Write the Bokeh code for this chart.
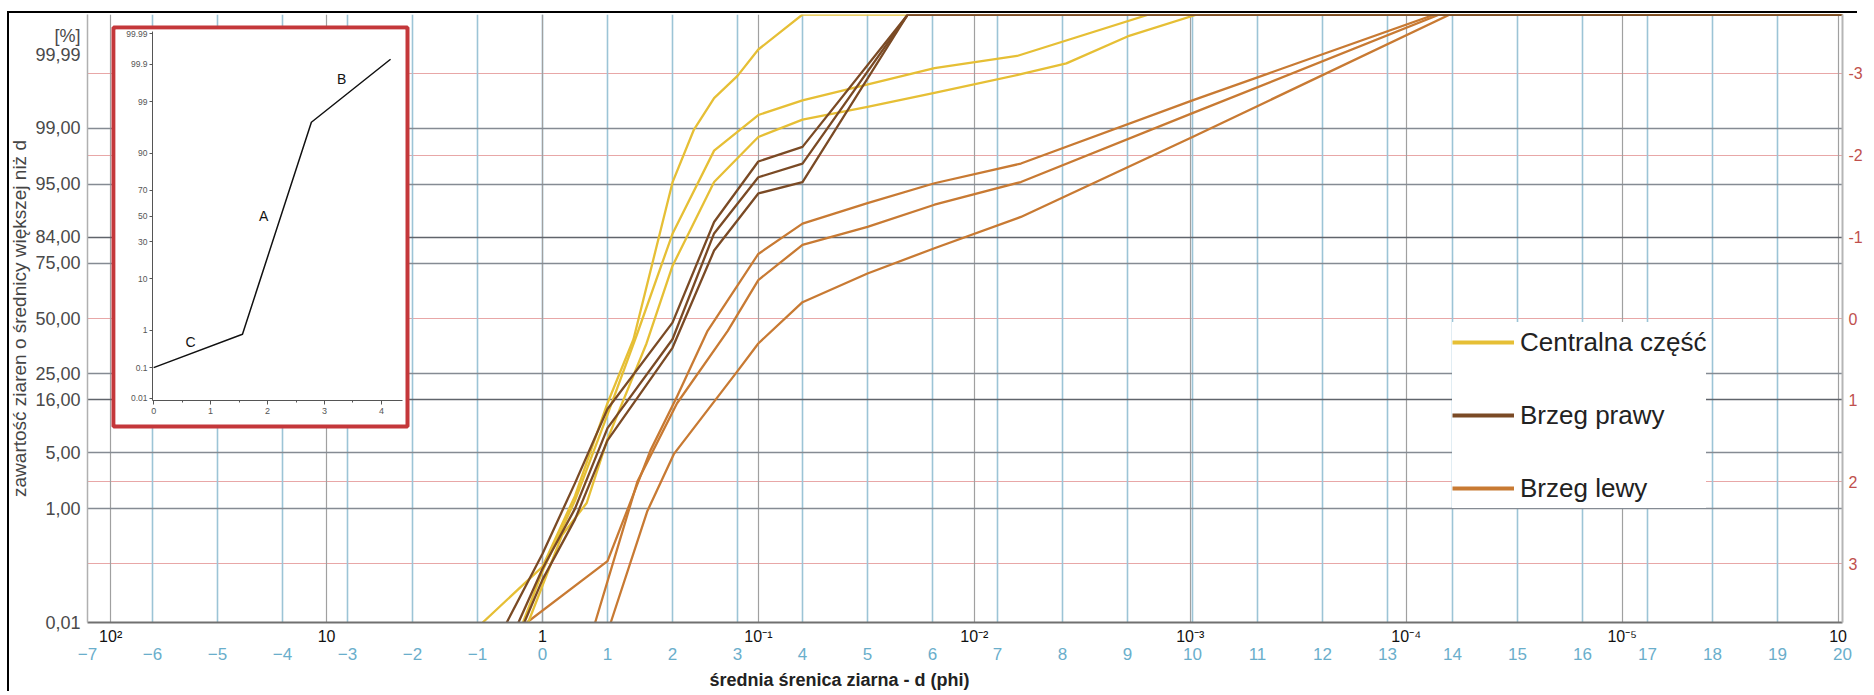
from statistics import NormalDist
import math

from bokeh.plotting import figure
from bokeh.models import (Range1d, LinearAxis, FixedTicker, Grid, Legend, LegendItem,
                          BoxAnnotation, Title, Div)
from bokeh.core.properties import value
from bokeh.embed import file_html
from bokeh.resources import INLINE

# ---------------- data ----------------
# Centralna część (yellow)
c1_phi = [-0.92, 0.0, 0.5, 1.0, 1.4, 2.0, 2.33, 2.64, 3.0, 3.32, 4.0, 20.0]
c1_pct = [0.01, 0.12, 1.5, 15.0, 40.0, 95.2, 98.96, 99.65, 99.85, 99.95, 100.0, 100.0]
c2_phi = [-0.3, 0.0, 0.5, 1.0, 1.45, 2.0, 2.64, 3.32, 4.0, 6.03, 7.3, 9.33, 20.0]
c2_pct = [0.01, 0.1, 1.3, 12.0, 42.0, 85.0, 98.0, 99.36, 99.62, 99.89, 99.934, 100.0, 100.0]
c3_phi = [-0.22, 0.3, 0.68, 1.0, 1.6, 2.0, 2.64, 3.32, 4.0, 5.0, 6.03, 7.36, 8.06, 9.0, 10.07, 20.0]
c3_pct = [0.01, 0.4, 1.2, 7.0, 38.0, 74.0, 95.25, 98.68, 99.25, 99.52, 99.71, 99.86, 99.91, 99.972, 100.0, 100.0]

# Brzeg prawy (dark brown)
b1_phi = [-0.55, 0.0, 0.5, 1.0, 2.0, 2.64, 3.32, 4.0, 5.62, 20.0]
b1_pct = [0.01, 0.2, 2.2, 13.4, 48.0, 88.1, 97.26, 98.21, 100.0, 100.0]
b2_phi = [-0.37, 0.0, 0.5, 1.0, 2.0, 2.64, 3.32, 4.0, 5.62, 20.0]
b2_pct = [0.01, 0.11, 1.0, 9.0, 40.0, 85.1, 95.8, 97.1, 100.0, 100.0]
b3_phi = [-0.28, 0.0, 0.5, 1.0, 2.0, 2.64, 3.32, 4.0, 5.62, 20.0]
b3_pct = [0.01, 0.07, 0.7, 6.8, 36.0, 79.7, 93.7, 95.25, 100.0, 100.0]

# Brzeg lewy (orange)
o1_phi = [-0.24, 1.0, 1.66, 2.07, 2.54, 3.32, 4.0, 5.0, 6.03, 7.36, 10.0, 13.73, 20.0]
o1_pct = [0.01, 0.15, 5.3, 17.0, 44.0, 78.5, 87.7, 92.1, 95.1, 97.1, 99.62, 100.0, 100.0]
o2_phi = [0.81, 1.46, 2.07, 2.85, 3.32, 4.0, 5.0, 6.03, 7.36, 10.0, 13.8, 20.0]
o2_pct = [0.01, 2.3, 15.0, 44.0, 68.1, 81.6, 86.9, 91.8, 95.25, 99.4, 100.0, 100.0]
o3_phi = [1.05, 1.61, 2.02, 3.0, 3.32, 4.0, 5.0, 6.03, 7.36, 10.0, 13.96, 20.0]
o3_pct = [0.01, 0.91, 4.85, 26.0, 38.0, 57.9, 70.9, 80.5, 89.3, 98.68, 100.0, 100.0]

series_names = ["Centralna część", "Brzeg prawy", "Brzeg lewy"]

# inset (schematic curve)
inset_phi = [0.0, 1.56, 2.77, 4.16]
inset_pct = [0.1, 0.8, 97.2, 99.93]
inset_label_text = ["C", "A", "B"]
inset_label_phi = [0.65, 1.93, 3.3]
inset_label_pct = [0.5, 50.0, 99.73]
inset_x_ticks = [0, 1, 2, 3, 4]
inset_x_minor = [0.5, 1.5, 2.5, 3.5]
inset_y_ticks = [0.01, 0.1, 1, 10, 30, 50, 70, 90, 99, 99.9, 99.99]
inset_y_labels = ["0.01", "0.1", "1", "10", "30", "50", "70", "90", "99", "99.9", "99.99"]

# axes / ticks
left_pct_ticks = [0.01, 1, 5, 16, 25, 50, 75, 84, 95, 99]
left_pct_labels = ["0,01", "1,00", "5,00", "16,00", "25,00", "50,00", "75,00", "84,00", "95,00", "99,00"]
top_labels = ["99,99", "[%]"]
top_label_z = [3.22, 3.46]          # where the two top labels sit on the left axis
right_labels = [-3, -2, -1, 0, 1, 2, 3]
phi_ticks = list(range(-7, 21))
mm_decades = [100, 10, 1, 0.1, 0.01, 0.001, 0.0001, 0.00001, 0.000001]
mm_labels = ["10²", "10", "1", "10⁻¹", "10⁻²", "10⁻³", "10⁻⁴", "10⁻⁵", "10"]
grid_gray_pct = [1, 5, 25, 75, 95, 99]
grid_dark_pct = [16, 84]
grid_pink_z = [-3, -2, 0, 2, 3]
phi_grid = list(range(-6, 20))

# ---------------- helpers ----------------
ND = NormalDist()


def pz(p):
    """percent -> probability-paper coordinate"""
    p = min(max(p, 0.01), 99.99)
    return ND.inv_cdf(p / 100.0)


def mm_to_phi(mm):
    return -math.log2(mm)


FONT = "Liberation Sans"
YELLOW = "#e6bf35"
BROWN = "#7a4a25"
ORANGE = "#c87a33"

# ---------------- main figure ----------------
p = figure(width=1874, height=695, x_range=Range1d(-7, 20),
           y_range=Range1d(pz(0.01), pz(99.99)),
           output_backend="svg", toolbar_location=None,
           min_border_left=87, min_border_right=32, min_border_top=14, min_border_bottom=73,
           background_fill_color="white", border_fill_color="white")
p.styles = {"position": "absolute", "left": "0px", "top": "0px"}
p.outline_line_color = None
p.xgrid.visible = False
p.ygrid.visible = False

# grids
p.add_layout(Grid(dimension=1, ticker=FixedTicker(ticks=[float(z) for z in grid_pink_z]),
                  grid_line_color="#e8a7a7", grid_line_width=1.2))
p.add_layout(Grid(dimension=0, ticker=FixedTicker(ticks=[float(v) for v in phi_grid]),
                  grid_line_color="#9cc4d6", grid_line_width=1.6))
p.add_layout(Grid(dimension=0, ticker=FixedTicker(ticks=[mm_to_phi(m) for m in mm_decades]),
                  grid_line_color="#a0a0a0", grid_line_width=1.2))
p.add_layout(Grid(dimension=1, ticker=FixedTicker(ticks=[pz(v) for v in grid_gray_pct]),
                  grid_line_color="#858b93", grid_line_width=1.5))
p.add_layout(Grid(dimension=1, ticker=FixedTicker(ticks=[pz(v) for v in grid_dark_pct]),
                  grid_line_color="#60646b", grid_line_width=1.6))

# left axis (percent)
yax = p.yaxis[0]
left_z = [pz(v) for v in left_pct_ticks] + top_label_z
left_lab = left_pct_labels + top_labels
yax.ticker = FixedTicker(ticks=left_z)
yax.major_label_overrides = {z: lab for z, lab in zip(left_z, left_lab)}
yax.axis_label = "zawartość ziaren o średnicy większej niż d"
yax.axis_label_text_font = FONT
yax.axis_label_text_font_style = "normal"
yax.axis_label_text_font_size = "19px"
yax.axis_label_text_color = "#444444"
yax.axis_label_standoff = 2
yax.major_label_text_font = FONT
yax.major_label_text_font_size = "18px"
yax.major_label_text_color = "#4a4a4a"
yax.major_label_standoff = 7
yax.major_tick_out = 0
yax.major_tick_in = 0
yax.major_tick_line_color = None
yax.minor_tick_line_color = None
yax.axis_line_color = "#b0b0b0"
yax.axis_line_width = 1.5

# right axis (z)
rz = [float(-v) + 0.0 for v in right_labels]
rax = LinearAxis(ticker=FixedTicker(ticks=rz),
                 major_label_overrides={z: str(v) for z, v in zip(rz, right_labels)})
rax.major_label_text_font = FONT
rax.major_label_text_font_size = "16px"
rax.major_label_text_color = "#c0504d"
rax.major_label_standoff = 6
rax.major_tick_out = 0
rax.major_tick_in = 0
rax.major_tick_line_color = None
rax.minor_tick_line_color = None
rax.axis_line_color = "#b5b5b5"
rax.axis_line_width = 2
p.add_layout(rax, "right")

# bottom axis 1: mm decades
xax = p.xaxis[0]
mm_phi = [mm_to_phi(m) for m in mm_decades]
xax.ticker = FixedTicker(ticks=mm_phi)
xax.major_label_overrides = {x: lab for x, lab in zip(mm_phi, mm_labels)}
xax.major_label_text_font = FONT
xax.major_label_text_font_size = "16px"
xax.major_label_text_color = "#111111"
xax.major_label_standoff = 5
xax.major_tick_out = 0
xax.major_tick_in = 0
xax.major_tick_line_color = None
xax.minor_tick_line_color = None
xax.axis_line_color = "#707070"
xax.axis_line_width = 2

# bottom axis 2: phi
phax = LinearAxis(ticker=FixedTicker(ticks=[float(v) for v in phi_ticks]))
phax.major_label_text_font = FONT
phax.major_label_text_font_size = "17px"
phax.major_label_text_color = "#6aaecb"
phax.major_label_standoff = 0
phax.major_tick_out = 0
phax.major_tick_in = 0
phax.axis_line_color = None
phax.major_tick_line_color = None
phax.minor_tick_line_color = None
p.add_layout(phax, "below")

# bottom title
p.add_layout(Title(text="średnia śrenica ziarna - d (phi)", align="left", offset=622,
                   standoff=10, text_font=FONT, text_font_size="18px",
                   text_font_style="bold", text_color="#222222"), "below")

# data lines
groups = [
    (ORANGE, [(o1_phi, o1_pct), (o2_phi, o2_pct), (o3_phi, o3_pct)]),
    (YELLOW, [(c1_phi, c1_pct), (c2_phi, c2_pct), (c3_phi, c3_pct)]),
    (BROWN, [(b1_phi, b1_pct), (b2_phi, b2_pct), (b3_phi, b3_pct)]),
]
for col, curves in groups:
    for xs, ps in curves:
        p.line(xs, [pz(v) for v in ps], line_color=col, line_width=2.3,
               line_join="round")

# legend (legend-only renderers, nothing drawn in the plot)
leg_cols = [YELLOW, BROWN, ORANGE]
items = []
for name, col in zip(series_names, leg_cols):
    r = p.line(x=[float("nan")], y=[float("nan")], line_color=col, line_width=4)
    items.append(LegendItem(label=name, renderers=[r]))
legend = Legend(items=items, location=(1365, 114), padding=3, margin=0, spacing=33,
                glyph_width=62, glyph_height=40, label_height=40, label_width=182,
                label_standoff=6, label_text_font=FONT, label_text_font_size="26px",
                label_text_color="#222222", border_line_color=None,
                background_fill_color="white", background_fill_alpha=1.0)
p.add_layout(legend)

# inset red frame (inside the plot frame)
p.add_layout(BoxAnnotation(left=26, right=320, top=595, bottom=196,
                           left_units="screen", right_units="screen",
                           top_units="screen", bottom_units="screen",
                           fill_color="white", fill_alpha=1.0,
                           line_color="#c4373a", line_alpha=1.0, line_width=4))

# ---------------- inset figure ----------------
q = figure(width=290, height=395, x_range=Range1d(-0.02, 4.37), y_range=Range1d(-3.76, 3.76),
           output_backend="svg", toolbar_location=None,
           min_border_left=37, min_border_right=3, min_border_top=2, min_border_bottom=24,
           background_fill_color="white", border_fill_color="white")
q.styles = {"position": "absolute", "left": "115px", "top": "29px"}
q.outline_line_color = None
q.xgrid.visible = False
q.ygrid.visible = False
q.xaxis.ticker = FixedTicker(ticks=inset_x_ticks, minor_ticks=inset_x_minor)
q.xaxis.major_label_text_font = FONT
q.xaxis.major_label_text_font_size = "9px"
q.xaxis.major_label_text_color = "#555555"
q.xaxis.major_label_standoff = 3
q.xaxis.major_tick_out = 4
q.xaxis.major_tick_in = 0
q.xaxis.minor_tick_out = 2
q.xaxis.minor_tick_in = 0
q.xaxis.axis_line_color = "#555555"
q.xaxis.major_tick_line_color = "#555555"
q.xaxis.minor_tick_line_color = "#555555"
iy = [pz(v) for v in inset_y_ticks]
q.yaxis.ticker = FixedTicker(ticks=iy)
q.yaxis.major_label_overrides = {z: lab for z, lab in zip(iy, inset_y_labels)}
q.yaxis.major_label_text_font = FONT
q.yaxis.major_label_text_font_size = "8.5px"
q.yaxis.major_label_text_color = "#555555"
q.yaxis.major_label_standoff = 2
q.yaxis.major_tick_out = 3
q.yaxis.major_tick_in = 0
q.yaxis.minor_tick_line_color = None
q.yaxis.axis_line_color = "#555555"
q.yaxis.major_tick_line_color = "#555555"

q.line(inset_phi, [pz(v) for v in inset_pct], line_color="#111111", line_width=1.5)
q.text(x=inset_label_phi, y=[pz(v) for v in inset_label_pct], text=inset_label_text,
       text_font=value(FONT), text_font_size="14px", text_align="center",
       text_baseline="middle", text_color="#111111")

# outer black frame of the picture: two thin bars (top edge and left edge)
top_bar = Div(text="", width=1850, height=2, margin=0,
              styles={"position": "absolute", "left": "7px", "top": "11px",
                      "background-color": "#000000", "pointer-events": "none"})
left_bar = Div(text="", width=2, height=680, margin=0,
               styles={"position": "absolute", "left": "7px", "top": "11px",
                       "background-color": "#000000", "pointer-events": "none"})

open("out.html", "w").write(file_html([p, q, top_bar, left_bar], INLINE))
